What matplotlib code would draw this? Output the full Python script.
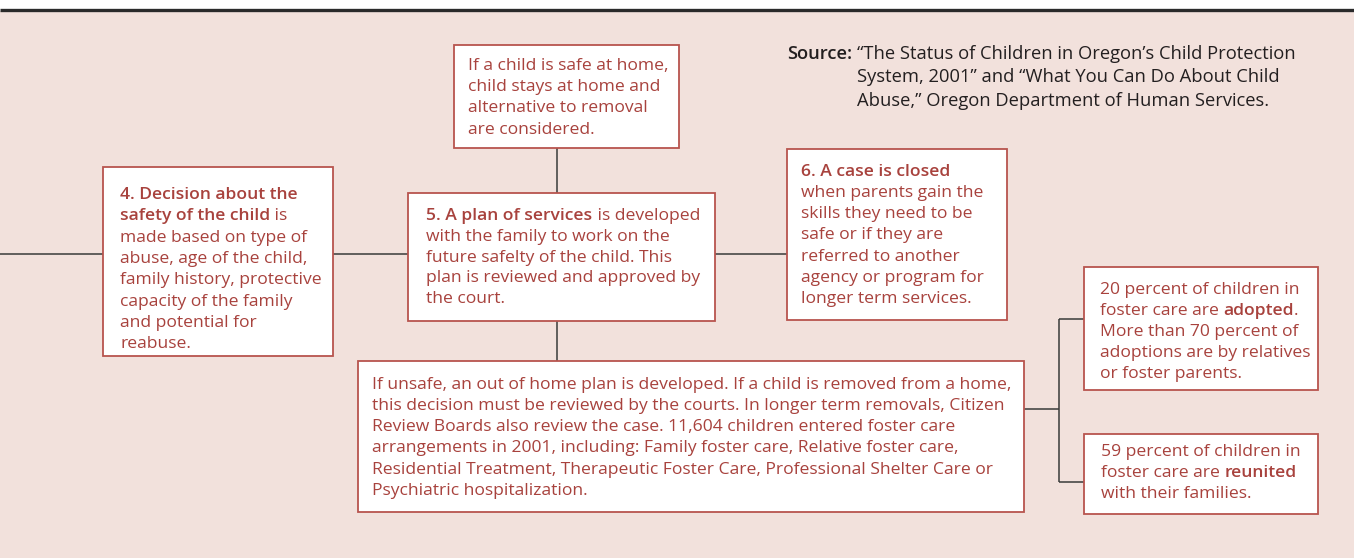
import matplotlib
matplotlib.use('Agg')
import matplotlib.pyplot as plt
from matplotlib.patches import Rectangle

# ---- text of the diagram (bold runs wrapped in *...*) ----
safe_home_lines = ['If a child is safe at home,',
                   'child stays at home and',
                   'alternative to removal',
                   'are considered.']
step4_lines = ['*4. Decision about the*',
               '*safety of the child* is',
               'made based on type of',
               'abuse, age of the child,',
               'family history, protective',
               'capacity of the family',
               'and potential for',
               'reabuse.']
step5_lines = ['*5. A plan of services* is developed',
               'with the family to work on the',
               'future safelty of the child. This',
               'plan is reviewed and approved by',
               'the court.']
step6_lines = ['*6. A case is closed*',
               'when parents gain the',
               'skills they need to be',
               'safe or if they are',
               'referred to another',
               'agency or program for',
               'longer term services.']
unsafe_lines = ['If unsafe, an out of home plan is developed. If a child is removed from a home,',
                'this decision must be reviewed by the courts. In longer term removals, Citizen',
                'Review Boards also review the case. 11,604 children entered foster care',
                'arrangements in 2001, including: Family foster care, Relative foster care,',
                'Residential Treatment, Therapeutic Foster Care, Professional Shelter Care or',
                'Psychiatric hospitalization.']
adopted_lines = ['20 percent of children in',
                 'foster care are *adopted*.',
                 'More than 70 percent of',
                 'adoptions are by relatives',
                 'or foster parents.']
reunited_lines = ['59 percent of children in',
                  'foster care are *reunited*',
                  'with their families.']
source_label = 'Source:'
source_lines = ['\u201cThe Status of Children in Oregon\u2019s Child Protection',
                'System, 2001\u201d and \u201cWhat You Can Do About Child',
                'Abuse,\u201d Oregon Department of Human Services.']

# ---- layout (pixels, y downwards) ----
# name: (left, top, width, height, text_x, first_line_center, line_step)
boxes = {
    'safe':     (454, 45, 225, 103, 468, 64.3, 21.3, safe_home_lines),
    'step4':    (103, 167, 230, 189, 120, 193.3, 21.35, step4_lines),
    'step5':    (408, 193, 307, 128, 426.5, 214.3, 20.85, step5_lines),
    'step6':    (787, 149, 220, 171, 801, 170, 21.3, step6_lines),
    'unsafe':   (358, 361, 666, 151, 372, 383.3, 21.2, unsafe_lines),
    'adopted':  (1084, 267, 234, 123, 1100, 288.3, 21.0, adopted_lines),
    'reunited': (1084, 434, 234, 80, 1101, 450, 21.3, reunited_lines),
}
connectors = [((0, 103), (254, 254)), ((333, 408), (254, 254)),
              ((557, 557), (148, 193)), ((557, 557), (321, 361)),
              ((715, 787), (254, 254)), ((1024, 1059), (409, 409)),
              ((1059, 1059), (319, 482)), ((1059, 1084), (319, 319)),
              ((1059, 1084), (482, 482))]

BG = '#f2e1dc'
EDGE = '#b8544e'
TXT = '#a8423d'
DARK = '#231f20'
FONT = 'Open Sans'
SIZE = 12.6
SRC_SIZE = 13.2

fig = plt.figure(figsize=(13.54, 5.58), dpi=100)
ax = fig.add_axes([0, 0, 1, 1])
ax.set_xlim(0, 1354)
ax.set_ylim(558, 0)
ax.axis('off')
fig.patch.set_facecolor('white')
renderer = fig.canvas.get_renderer()

# background + top rule
ax.add_patch(Rectangle((0, 11), 1354, 547, facecolor=BG, edgecolor='none', zorder=0))
ax.plot([0, 1354], [10, 10], color='#2a2a2a', lw=2.4, solid_capstyle='butt', zorder=1)


def width_of(s, weight, size):
    t = ax.text(0, 0, s, fontsize=size, fontweight=weight, family=FONT)
    w = t.get_window_extent(renderer).width
    t.remove()
    return w


# glyph advance of a run = width('x' + run + 'x') - width('xx')
def advance(s, weight, size):
    return width_of('x' + s + 'x', weight, size) - width_of('xx', weight, size)


def draw_line(x, y, s, color, size=SIZE):
    parts = s.split('*')
    for i, p in enumerate(parts):
        if not p:
            continue
        wgt = 'semibold' if i % 2 else 'normal'
        ax.text(x, y, p, fontsize=size, fontweight=wgt, family=FONT,
                color=color, va='baseline', ha='left', zorder=4)
        x += advance(p, wgt, size)


for (xs, ys) in connectors:
    ax.plot(xs, ys, color='#3a3a3a', lw=1.1, solid_capstyle='butt', zorder=2)

for name, (l, t, w, h, tx, y0, step, lines) in boxes.items():
    ax.add_patch(Rectangle((l, t), w, h, facecolor='white', edgecolor=EDGE,
                           lw=1.3, zorder=3))
    for i, line in enumerate(lines):
        draw_line(tx, y0 + i * step + 5.5, line, TXT)

# source note
ax.text(787.5, 53.3 + 5.5, source_label, fontsize=SRC_SIZE, fontweight='semibold',
        family=FONT, color=DARK, va='baseline', ha='left')
for i, line in enumerate(source_lines):
    ax.text(857, 53.3 + i * 23.4 + 5.5, line, fontsize=SRC_SIZE, family=FONT,
            color=DARK, va='baseline', ha='left')

fig.savefig('out.png', dpi=100, facecolor='white')
